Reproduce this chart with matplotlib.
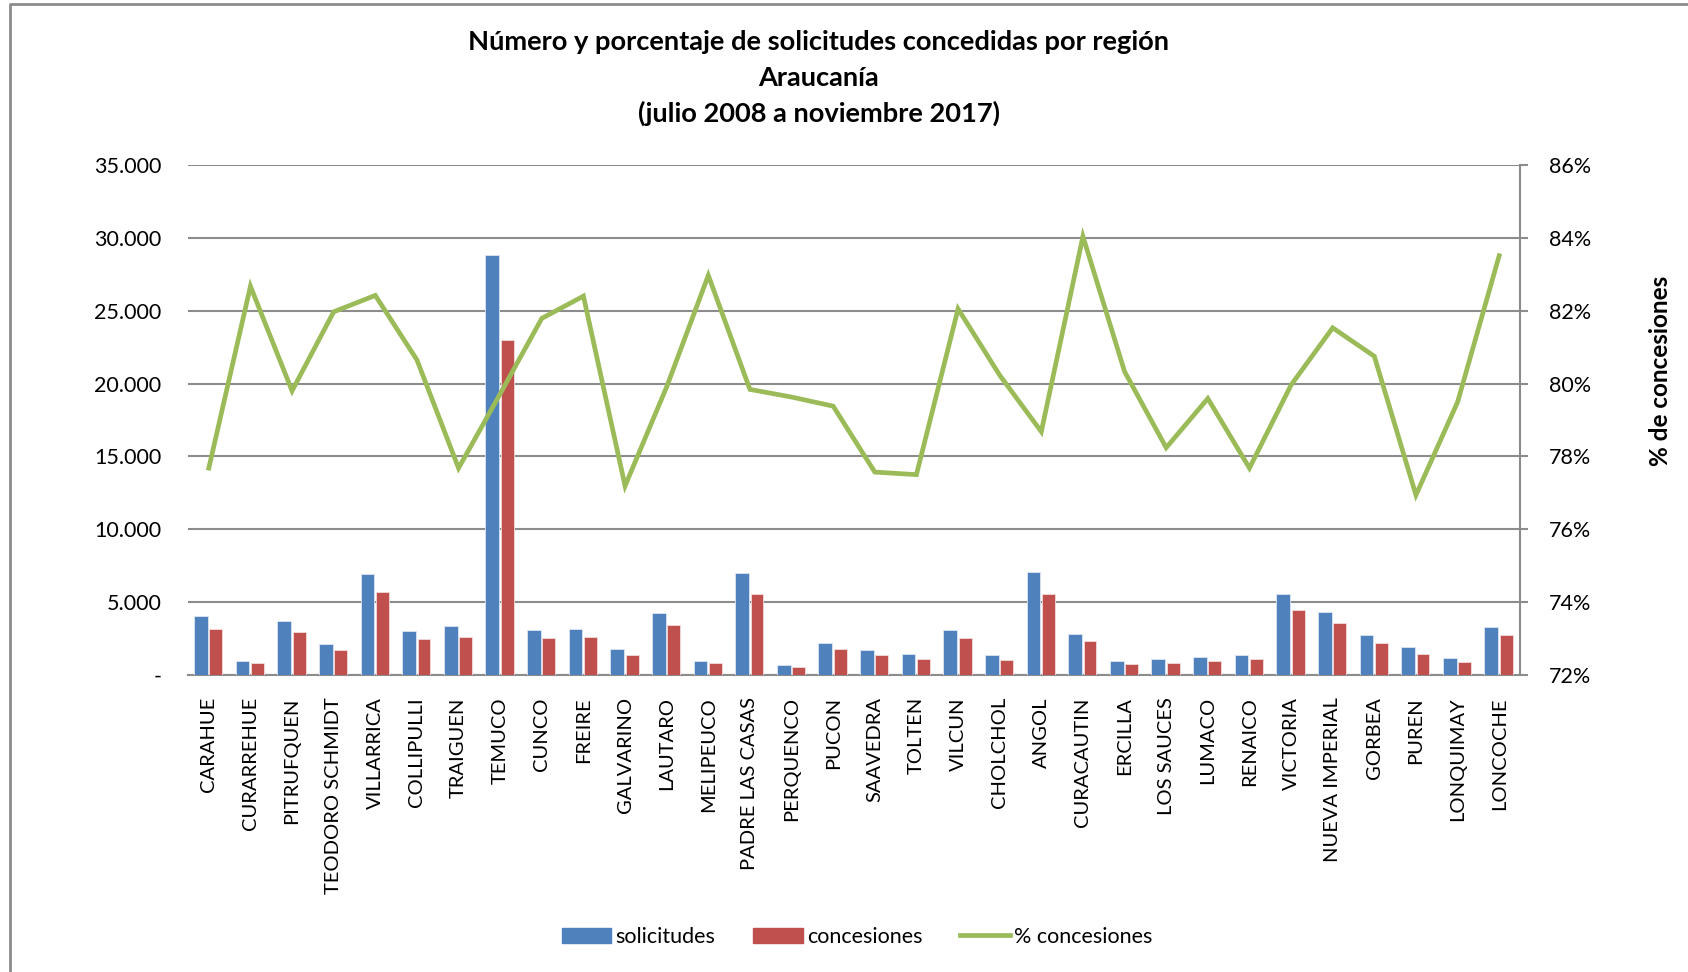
#!/usr/bin/env python3
#
# solicitudes / concesiones por comuna, Araucania
#

import matplotlib
matplotlib.use("Agg")
import matplotlib.pyplot as plt
import matplotlib.ticker as mticker
from matplotlib.lines import Line2D
from matplotlib.patches import Patch
import numpy


FONT = "Lato"
BLUE = "#4F81BD"
RED = "#C0504D"
GREEN = "#9BBB59"
GRID = "#8C8C8C"

comunas = [
    "CARAHUE", "CURARREHUE", "PITRUFQUEN", "TEODORO SCHMIDT", "VILLARRICA",
    "COLLIPULLI", "TRAIGUEN", "TEMUCO", "CUNCO", "FREIRE", "GALVARINO",
    "LAUTARO", "MELIPEUCO", "PADRE LAS CASAS", "PERQUENCO", "PUCON",
    "SAAVEDRA", "TOLTEN", "VILCUN", "CHOLCHOL", "ANGOL", "CURACAUTIN",
    "ERCILLA", "LOS SAUCES", "LUMACO", "RENAICO", "VICTORIA",
    "NUEVA IMPERIAL", "GORBEA", "PUREN", "LONQUIMAY", "LONCOCHE",
]

solicitudes = [
    4060, 975, 3690, 2110, 6960, 3040, 3390, 28800, 3110, 3160, 1760,
    4270, 950, 7030, 670, 2230, 1740, 1440, 3110, 1350, 7060, 2790,
    975, 1090, 1210, 1390, 5570, 4340, 2740, 1930, 1140, 3270,
]

concesiones = [
    3160, 790, 2950, 1740, 5710, 2440, 2620, 22980, 2530, 2580, 1350,
    3410, 790, 5570, 530, 1790, 1350, 1110, 2530, 1040, 5550, 2320,
    770, 840, 950, 1090, 4430, 3550, 2180, 1440, 880, 2720,
]

pct_concesiones = [
    77.68, 82.67, 79.80, 81.97, 82.42, 80.65, 77.68, 79.72, 81.79, 82.40,
    77.19, 79.91, 82.97, 79.84, 79.63, 79.38, 77.57, 77.50, 82.05, 80.23,
    78.68, 84.04, 80.33, 78.24, 79.59, 77.68, 79.96, 81.53, 80.75, 76.94,
    79.49, 83.51,
]

left_ticks = [0, 5000, 10000, 15000, 20000, 25000, 30000, 35000]
right_ticks = [72, 74, 76, 78, 80, 82, 84, 86]

title_lines = [
    "Número y porcentaje de solicitudes concedidas por región",
    "Araucanía",
    "(julio 2008 a noviembre 2017)",
]


W, H = 1688, 972
fig = plt.figure(figsize=(W / 100, H / 100), dpi=100)
fig.patch.set_facecolor("white")

ax1 = fig.add_axes([188 / W, 1 - 675 / H, (1520 - 188) / W, (675 - 165) / H])
ax2 = ax1.twinx()

x = numpy.arange(len(comunas))

ax1.bar(x - 0.19, solicitudes, width=0.33, color=BLUE,
        edgecolor="#DCE6F2", linewidth=0.6, zorder=3)
ax1.bar(x + 0.17, concesiones, width=0.31, color=RED,
        edgecolor="#F2DCDB", linewidth=0.6, zorder=3)

ax2.plot(x, pct_concesiones, color=GREEN, linewidth=3.4,
         solid_joinstyle="miter", zorder=4)

ax1.set_xlim(-0.5, len(comunas) - 0.5)
ax1.set_ylim(0, 35000)
ax2.set_ylim(72, 86)

ax1.set_yticks(left_ticks)
ax2.set_yticks(right_ticks)
ax1.yaxis.set_major_formatter(mticker.FuncFormatter(
    lambda v, p: "-" if v == 0 else f"{v:,.0f}".replace(",", ".")))
ax2.yaxis.set_major_formatter(mticker.FuncFormatter(lambda v, p: f"{v:.0f}%"))

ax1.grid(axis="y", color=GRID, linewidth=1.5, zorder=0)
ax1.set_axisbelow(True)

ax1.set_xticks(x)
ax1.set_xticklabels(comunas, rotation=90, fontfamily=FONT, fontsize=14.5)
ax1.tick_params(axis="x", length=0, pad=16)
ax1.tick_params(axis="y", length=0, pad=19, labelsize=15.5)
ax2.tick_params(axis="y", length=6, width=1.5, color=GRID, pad=15, labelsize=15.5)
for lab in ax1.get_yticklabels() + ax2.get_yticklabels():
    lab.set_fontfamily(FONT)

for s in ["top", "left", "right"]:
    ax1.spines[s].set_visible(False)
for s in ["top", "left", "bottom"]:
    ax2.spines[s].set_visible(False)
ax1.spines["bottom"].set_color(GRID)
ax1.spines["bottom"].set_linewidth(1.5)
ax2.spines["right"].set_color(GRID)
ax2.spines["right"].set_linewidth(1.5)

fig.text(1660 / W, 1 - 371 / H, "% de concesiones", rotation=90,
         ha="center", va="center", fontsize=17.5, fontweight="bold",
         fontfamily=FONT)

for i, line in enumerate(title_lines):
    fig.text(819 / W, 1 - (42 + 35.5 * i) / H, line, ha="center",
             va="center", fontsize=19.6, fontweight="bold", fontfamily=FONT)

handles = [
    Patch(facecolor=BLUE, edgecolor=BLUE),
    Patch(facecolor=RED, edgecolor=RED),
    Line2D([0], [0], color=GREEN, linewidth=3.4),
]
fig.legend(handles, ["solicitudes", "concesiones", "% concesiones"],
           loc="center", bbox_to_anchor=(857 / W, 1 - 937 / H), ncol=3,
           frameon=False, prop={"family": FONT, "size": 15.5},
           handlelength=2.3, handleheight=0.75, handletextpad=0.2,
           columnspacing=1.75)

# chart area border (runs off the right and bottom edge)
fig.add_artist(Line2D([10 / W, 10 / W, 1.0], [0.0, 1 - 4 / H, 1 - 4 / H],
                      transform=fig.transFigure, color=GRID, linewidth=2))

fig.savefig("out.png", dpi=100)
